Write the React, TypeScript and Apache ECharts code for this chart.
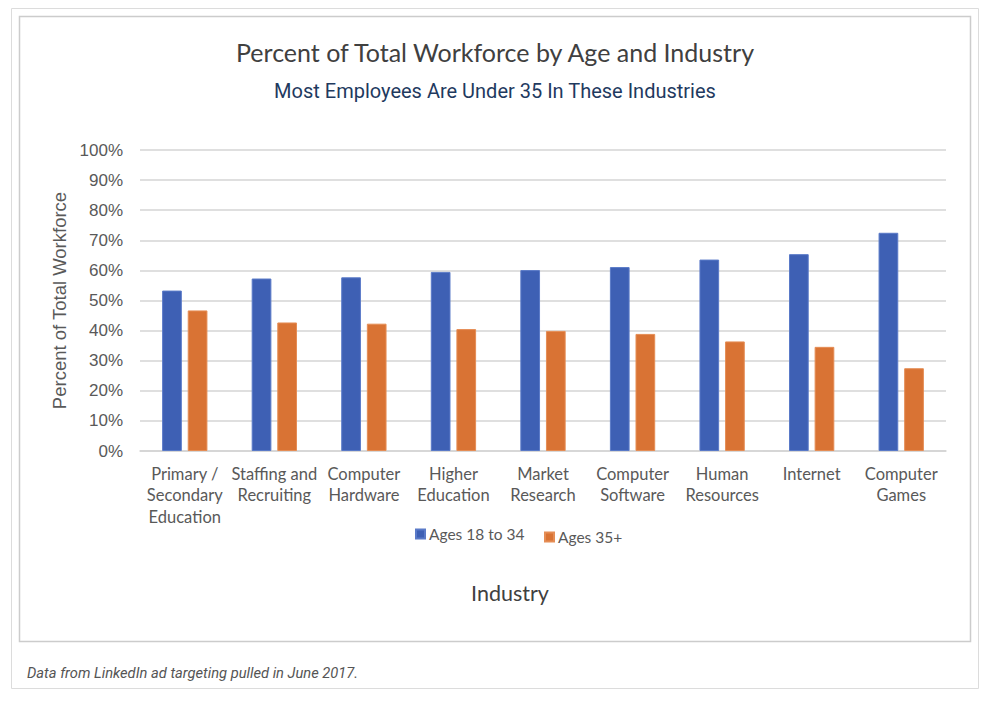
import React, { useEffect, useRef } from "react";
import * as echarts from "echarts";

const categories = [
  "Primary /\nSecondary\nEducation",
  "Staffing and\nRecruiting",
  "Computer\nHardware",
  "Higher\nEducation",
  "Market\nResearch",
  "Computer\nSoftware",
  "Human\nResources",
  "Internet",
  "Computer\nGames",
];
const young = [53.3, 57.3, 57.7, 59.5, 60.1, 61.1, 63.6, 65.4, 72.5];
const older = [46.7, 42.7, 42.3, 40.5, 39.9, 38.9, 36.4, 34.6, 27.5];
const seriesNames = ["Ages 18 to 34", "Ages 35+"];
const titleText = "Percent of Total Workforce by Age and Industry";
const subtitleText = "Most Employees Are Under 35 In These Industries";
const footnoteText = "Data from LinkedIn ad targeting pulled in June 2017.";

export default function App() {
  const ref = useRef<HTMLDivElement>(null);
  useEffect(() => {
    document.body.style.margin = "0";
    const chart = echarts.init(ref.current!, null, { renderer: "svg" });
    const labelColor = "#595959";
    chart.setOption({
      animation: false,
      backgroundColor: "#ffffff",
      title: [
        {
          text: titleText,
          left: "center",
          top: 34,
          textStyle: { fontFamily: "Lato", fontSize: 25, fontWeight: "normal", color: "#404040" },
        },
        {
          text: subtitleText,
          left: "center",
          top: 76,
          textStyle: { fontFamily: "Roboto", fontSize: 20, fontWeight: "normal", color: "#1f3a5f" },
        },
        {
          text: footnoteText,
          left: 22,
          top: 660,
          textStyle: { fontFamily: "Roboto", fontSize: 14.7, fontStyle: "italic", fontWeight: "normal", color: "#555555" },
        },
      ],
      graphic: [
        {
          type: "rect",
          shape: { x: 11.5, y: 8.5, width: 967, height: 680 },
          style: { fill: "none", stroke: "#dcdcdc", lineWidth: 1 },
        },
        {
          type: "rect",
          shape: { x: 19.5, y: 16.5, width: 951, height: 625 },
          style: { fill: "none", stroke: "#cccccc", lineWidth: 1.5 },
        },
      ],
      legend: [
        {
          data: [seriesNames[0]],
          left: 415,
          top: 526,
          padding: 0,
          icon: "rect",
          itemWidth: 9,
          itemHeight: 9,
          itemGap: 4,
          textStyle: { fontFamily: "Lato", fontSize: 15.5, color: labelColor, padding: [0, 0, 0, -1] },
        },
        {
          data: [seriesNames[1]],
          left: 544,
          top: 529,
          padding: 0,
          icon: "rect",
          itemWidth: 9,
          itemHeight: 9,
          textStyle: { fontFamily: "Lato", fontSize: 15.5, color: labelColor, padding: [0, 0, 0, -1] },
        },
      ],
      grid: { left: 140, right: 44, top: 150, bottom: 251, containLabel: false },
      xAxis: {
        type: "category",
        data: categories,
        axisLine: { show: true, lineStyle: { color: "#d4d4d4", width: 1.5 } },
        axisTick: { show: false },
        axisLabel: {
          interval: 0,
          margin: 12,
          fontFamily: "Lato",
          fontSize: 16.5,
          lineHeight: 21.5,
          color: labelColor,
        },
        name: "Industry",
        nameLocation: "middle",
        nameGap: 131,
        nameTextStyle: { fontFamily: "Lato", fontSize: 21.5, color: "#404040", padding: [0, 66, 0, 0] },
      },
      yAxis: {
        type: "value",
        min: 0,
        max: 100,
        interval: 10,
        axisLabel: {
          formatter: "{value}%",
          fontFamily: "Liberation Sans",
          fontSize: 17,
          color: labelColor,
          margin: 17,
        },
        axisLine: { show: false },
        axisTick: { show: false },
        splitLine: { lineStyle: { color: "#d4d4d4", width: 1.5 } },
        name: "Percent of Total Workforce",
        nameLocation: "middle",
        nameRotate: 90,
        nameGap: 71,
        nameTextStyle: { fontFamily: "Liberation Sans", fontSize: 18.5, color: labelColor },
      },
      series: [
        {
          name: seriesNames[0],
          type: "bar",
          data: young,
          barWidth: "22%",
          barGap: "30%",
          itemStyle: { color: "#3e60b4", borderColor: "#5a7ac8", borderWidth: 1 },
        },
        {
          name: seriesNames[1],
          type: "bar",
          data: older,
          barWidth: "22%",
          itemStyle: { color: "#d97334", borderColor: "#e58d55", borderWidth: 1 },
        },
      ],
    });
    return () => chart.dispose();
  }, []);
  return <div ref={ref} style={{ width: 990, height: 702 }} />;
}
